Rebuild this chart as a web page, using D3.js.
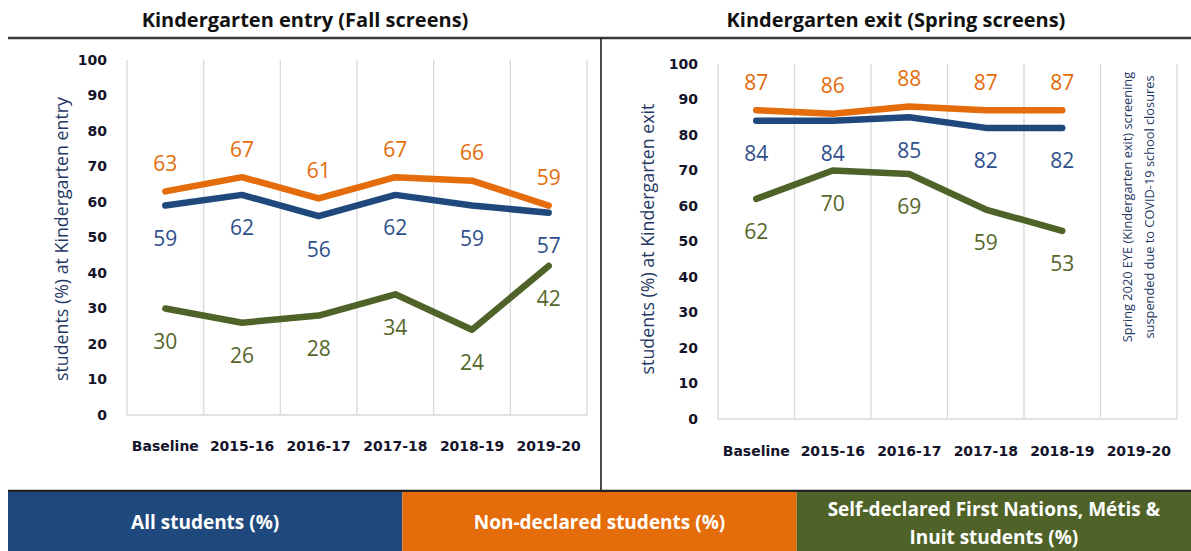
<!DOCTYPE html>
<html>
<head>
<meta charset="utf-8">
<script src="https://cdn.jsdelivr.net/npm/d3@7"></script>
<style>
  body { margin: 0; background: #fff; }
  svg { display: block; }
</style>
</head>
<body>
<div id="chart"></div>
<script>
// Data
// ================================
var categories = ["Baseline", "2015-16", "2016-17", "2017-18", "2018-19", "2019-20"];
var yTicks = [0, 10, 20, 30, 40, 50, 60, 70, 80, 90, 100];

var entryAll = [59, 62, 56, 62, 59, 57];
var entryNonDeclared = [63, 67, 61, 67, 66, 59];
var entryIndigenous = [30, 26, 28, 34, 24, 42];

// no spring 2020 screening
var exitAll = [84, 84, 85, 82, 82];
var exitNonDeclared = [87, 86, 88, 87, 87];
var exitIndigenous = [62, 70, 69, 59, 53];

var legendLabels = [
  ["All students (%)"],
  ["Non-declared students (%)"],
  ["Self-declared First Nations, Métis &", "Inuit students (%)"],
];

var covidNote = [
  "Spring 2020 EYE (Kindergarten exit) screening",
  "suspended due to COVID-19 school closures",
];

// Colours
var blue = "#1f497d";
var orange = "#e46c0a";
var green = "#4f6228";
var blueLabel = "#2f4f8c";
var greenLabel = "#56662a";
var axisText = "#14142b";

var svgWidth = 1191;
var svgHeight = 551;

var svg = d3
  .select("#chart")
  .append("svg")
  .attr("width", svgWidth)
  .attr("height", svgHeight);

var titleFont = "'Open Sans', 'DejaVu Sans', sans-serif";
var tickFont = "'DejaVu Sans', sans-serif";

// frame lines
svg.append("line")
  .attr("x1", 8).attr("x2", svgWidth)
  .attr("y1", 38).attr("y2", 38)
  .attr("stroke", "#3a3a3a")
  .attr("stroke-width", 2.5);

svg.append("line")
  .attr("x1", 601).attr("x2", 601)
  .attr("y1", 38).attr("y2", 492)
  .attr("stroke", "#111")
  .attr("stroke-width", 1.5);

// draw one panel
function drawPanel(opts) {
  var xScale = d3.scaleBand()
    .domain(categories)
    .range([opts.left, opts.right]);

  var yScale = d3.scaleLinear()
    .domain([0, 100])
    .range([opts.bottom, opts.top]);

  var g = svg.append("g");

  // title
  g.append("text")
    .attr("x", opts.titleX)
    .attr("y", 27)
    .attr("text-anchor", "middle")
    .style("font-family", titleFont)
    .style("font-weight", "bold")
    .style("font-size", "20px")
    .attr("fill", "#111")
    .text(opts.title);

  // vertical gridlines at category boundaries
  var bounds = categories.map((c) => xScale(c)).concat([opts.right]);
  g.selectAll(".grid")
    .data(bounds)
    .enter()
    .append("line")
    .attr("x1", (d) => d).attr("x2", (d) => d)
    .attr("y1", opts.top).attr("y2", opts.bottom)
    .attr("stroke", "#d9d9d9")
    .attr("stroke-width", 1.3);

  // base line
  g.append("line")
    .attr("x1", opts.left).attr("x2", opts.right)
    .attr("y1", opts.bottom).attr("y2", opts.bottom)
    .attr("stroke", "#d9d9d9")
    .attr("stroke-width", 1.5);

  // y axis
  var leftAxis = d3.axisLeft(yScale).tickValues(yTicks).tickSize(0).tickPadding(20);
  var yAxis = g.append("g")
    .attr("transform", `translate(${opts.left}, 0)`)
    .call(leftAxis);
  yAxis.select(".domain").remove();
  yAxis.selectAll("text")
    .style("font-family", tickFont)
    .style("font-weight", "bold")
    .style("font-size", "14px")
    .attr("fill", axisText);

  // x axis
  var bottomAxis = d3.axisBottom(xScale).tickSize(0).tickPadding(opts.xPad);
  var xAxis = g.append("g")
    .attr("transform", `translate(0, ${opts.bottom})`)
    .call(bottomAxis);
  xAxis.select(".domain").remove();
  xAxis.selectAll("text")
    .style("font-family", tickFont)
    .style("font-weight", "bold")
    .style("font-size", "14px")
    .attr("fill", axisText);

  // y axis title
  g.append("text")
    .attr("transform", `translate(${opts.yTitleX}, ${opts.yTitleY}) rotate(-90)`)
    .attr("text-anchor", "middle")
    .attr("dy", "0.35em")
    .style("font-family", titleFont)
    .style("font-size", "17.8px")
    .attr("fill", "#1f3864")
    .text(opts.yTitle);

  var line = d3.line()
    .x((d, i) => xScale(categories[i]) + xScale.bandwidth() / 2)
    .y((d) => yScale(d));

  var series = [
    { values: opts.all, color: blue, labelColor: blueLabel, dy: 33 },
    { values: opts.nonDeclared, color: orange, labelColor: orange, dy: -28 },
    { values: opts.indigenous, color: green, labelColor: greenLabel, dy: 33 },
  ];

  series.forEach(function (s) {
    g.append("path")
      .datum(s.values)
      .attr("d", line)
      .attr("fill", "none")
      .attr("stroke", s.color)
      .attr("stroke-width", 6.5)
      .attr("stroke-linejoin", "round")
      .attr("stroke-linecap", "round");
  });

  series.forEach(function (s) {
    g.selectAll(null)
      .data(s.values)
      .enter()
      .append("text")
      .attr("x", (d, i) => xScale(categories[i]) + xScale.bandwidth() / 2)
      .attr("y", (d) => yScale(d) + s.dy)
      .attr("dy", "0.35em")
      .attr("text-anchor", "middle")
      .style("font-family", titleFont)
      .style("font-size", "21px")
      .attr("fill", s.labelColor)
      .text((d) => d);
  });

  return { x: xScale, y: yScale, g: g };
}

drawPanel({
  title: "Kindergarten entry (Fall screens)",
  titleX: 305,
  yTitle: "students (%) at Kindergarten entry",
  yTitleX: 62,
  yTitleY: 239,
  left: 127,
  right: 587,
  top: 60,
  bottom: 415,
  xPad: 26,
  all: entryAll,
  nonDeclared: entryNonDeclared,
  indigenous: entryIndigenous,
});

var exitPanel = drawPanel({
  title: "Kindergarten exit (Spring screens)",
  titleX: 896,
  yTitle: "students (%) at Kindergarten exit",
  yTitleX: 648,
  yTitleY: 239,
  left: 718,
  right: 1177,
  top: 64,
  bottom: 419,
  xPad: 27,
  all: exitAll,
  nonDeclared: exitNonDeclared,
  indigenous: exitIndigenous,
});

// note in the empty 2019-20 column
var noteX = exitPanel.x("2019-20") + exitPanel.x.bandwidth() / 2;
exitPanel.g.selectAll(".note")
  .data(covidNote)
  .enter()
  .append("text")
  .attr("transform", (d, i) => `translate(${noteX - 11 + i * 22}, 207) rotate(-90)`)
  .attr("text-anchor", "middle")
  .attr("dy", "0.35em")
  .style("font-family", titleFont)
  .style("font-size", "12.8px")
  .attr("fill", "#1f3864")
  .text((d) => d);

// legend bands
var legendColors = [blue, orange, green];
var legendX = d3.scaleBand().domain([0, 1, 2]).range([8, svgWidth]);

svg.append("line")
  .attr("x1", 8).attr("x2", svgWidth)
  .attr("y1", 491).attr("y2", 491)
  .attr("stroke", "#222")
  .attr("stroke-width", 2.5);

var legend = svg.selectAll(".legend")
  .data(legendLabels)
  .enter()
  .append("g");

legend.append("rect")
  .attr("x", (d, i) => legendX(i))
  .attr("y", 492)
  .attr("width", legendX.bandwidth())
  .attr("height", svgHeight - 492)
  .attr("fill", (d, i) => legendColors[i]);

legend.each(function (lines, i) {
  var cx = legendX(i) + legendX.bandwidth() / 2;
  var startY = lines.length === 1 ? 522 : 509;
  d3.select(this)
    .selectAll("text")
    .data(lines)
    .enter()
    .append("text")
    .attr("x", cx)
    .attr("y", (d, j) => startY + j * 28)
    .attr("dy", "0.35em")
    .attr("text-anchor", "middle")
    .style("font-family", titleFont)
    .style("font-weight", "bold")
    .style("font-size", "19px")
    .attr("fill", "#fff")
    .text((d) => d);
});
</script>
</body>
</html>
